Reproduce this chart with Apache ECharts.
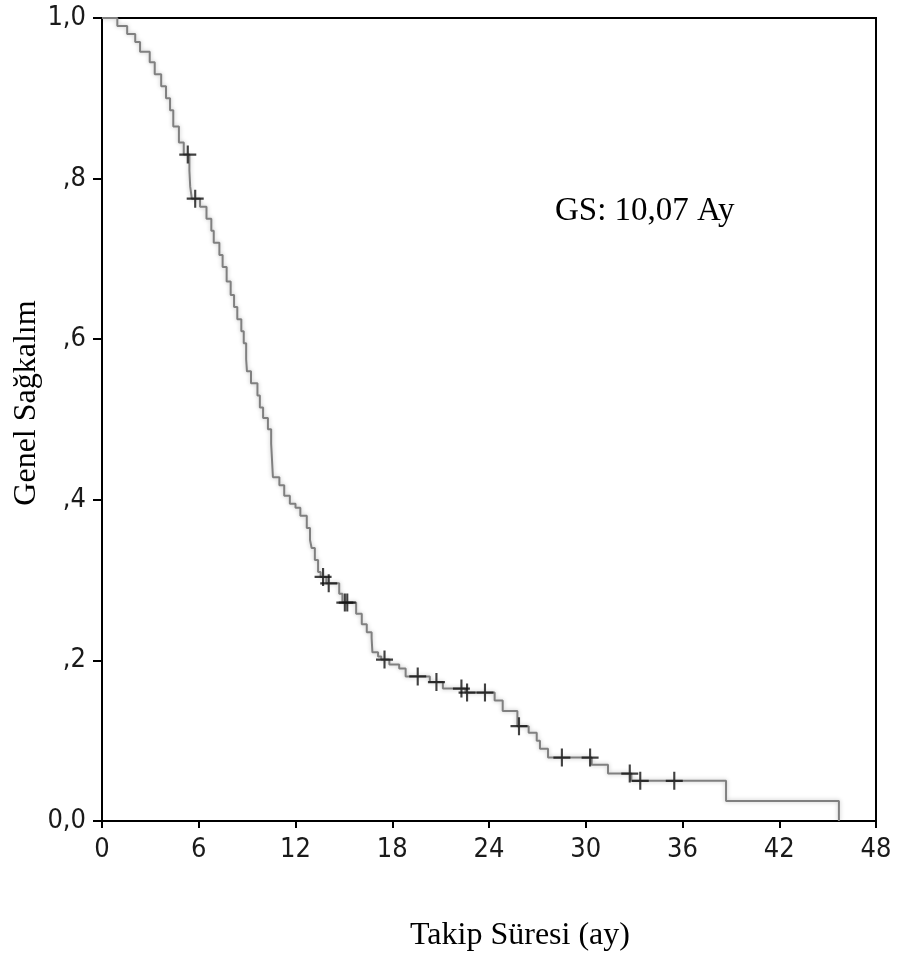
<!DOCTYPE html>
<html><head><meta charset="utf-8">
<script src="https://cdn.jsdelivr.net/npm/echarts@6/dist/echarts.min.js"></script>
<style>html,body{margin:0;padding:0;background:#fff}#c{width:898px;height:959px}</style>
</head><body><div id="c"></div>
<script>
// Kaplan-Meier steps: time (months) and survival after the event
const eventTimes = [0,0.95,1.56,2.06,2.36,2.96,3.27,3.67,3.97,4.22,4.42,4.77,5.07,5.42,5.47,5.57,6.08,6.48,6.78,6.93,7.28,7.48,7.73,7.98,8.19,8.39,8.64,8.79,8.94,8.99,9.24,9.64,9.79,9.99,10.29,10.49,10.6,11.0,11.3,11.65,12.0,12.3,12.7,12.9,13.0,13.2,13.4,13.56,13.91,14.71,14.91,15.76,16.11,16.42,16.72,16.77,17.12,17.32,17.82,18.43,18.83,20.33,21.14,22.54,24.35,24.85,25.76,26.46,26.96,27.16,27.66,30.37,31.38,32.83,38.7,45.7];
const survival   = [1.0,0.99,0.98,0.97,0.958,0.945,0.93,0.915,0.90,0.885,0.865,0.845,0.83,0.81,0.79,0.775,0.765,0.75,0.735,0.72,0.705,0.69,0.672,0.655,0.64,0.625,0.61,0.595,0.575,0.56,0.545,0.53,0.515,0.502,0.488,0.47,0.428,0.418,0.405,0.395,0.39,0.38,0.365,0.35,0.34,0.325,0.31,0.304,0.296,0.283,0.272,0.258,0.245,0.235,0.228,0.21,0.205,0.201,0.195,0.19,0.18,0.173,0.165,0.16,0.15,0.137,0.118,0.11,0.1,0.09,0.079,0.07,0.059,0.05,0.025,0.0];
// censored observations
const censorTimes = [5.32,5.78,13.71,14.06,15.06,15.21,17.52,19.58,20.74,22.29,22.64,23.75,25.86,28.52,30.27,32.73,33.38,35.49];
const censorSurv  = [0.83,0.775,0.304,0.296,0.272,0.272,0.201,0.18,0.173,0.165,0.16,0.16,0.118,0.079,0.079,0.059,0.05,0.05];
const xTicks = [0,6,12,18,24,30,36,42,48];
const yTickLabels = {0:'0,0',0.2:',2',0.4:',4',0.6:',6',0.8:',8',1:'1,0'};
const xTitle = 'Takip Süresi (ay)';
const yTitle = 'Genel Sağkalım';
const note = 'GS: 10,07 Ay';

const tickFont = '"DejaVu Sans Condensed","Liberation Sans Narrow","Liberation Sans",sans-serif';
const chart = echarts.init(document.getElementById('c'), null, {renderer:'canvas'});
const plus = 'path://M0,7 L16,7 L16,9 L0,9 Z M7,0 L9,0 L9,16 L7,16 Z';
chart.setOption({
  animation:false,
  backgroundColor:'#fff',
  grid:{left:102,top:18,right:22,bottom:138,containLabel:false,outerBoundsMode:'none',
    show:true,borderColor:'#000',borderWidth:2,backgroundColor:'transparent'},
  xAxis:{type:'value',min:0,max:48,interval:6,
    axisLine:{lineStyle:{color:'#000',width:2}},
    axisTick:{show:true,length:7,lineStyle:{color:'#000',width:2}},
    axisLabel:{margin:15,fontFamily:tickFont,fontSize:27,color:'#1a1a1a',
      formatter:v=>xTicks.includes(v)?String(v):''},
    splitLine:{show:false}},
  yAxis:{type:'value',min:0,max:1,interval:0.2,
    axisLine:{lineStyle:{color:'#000',width:2}},
    axisTick:{show:true,length:9,lineStyle:{color:'#000',width:2}},
    axisLabel:{margin:16,fontFamily:tickFont,fontSize:27,color:'#1a1a1a',
      formatter:v=>{const k=Math.round(v*10)/10;return yTickLabels[k]!==undefined?yTickLabels[k]:'';}},
    splitLine:{show:false}},
  graphic:[
    {type:'text',left:555,top:195,style:{text:note,font:'33px "Liberation Serif"',fill:'#000'}},
    {type:'text',x:520,y:936,style:{text:xTitle,font:'32px "Liberation Serif"',fill:'#000',textAlign:'center',textVerticalAlign:'middle'}},
    {type:'text',x:27,y:403,rotation:Math.PI/2,style:{text:yTitle,font:'32px "Liberation Serif"',fill:'#000',textAlign:'center',textVerticalAlign:'middle'}}
  ],
  series:[
    {type:'line',step:'end',symbol:'none',data:eventTimes.map((t,i)=>[t,survival[i]]),
      lineStyle:{color:'#808080',width:2,shadowColor:'rgba(0,0,0,0.25)',shadowBlur:4},z:2},
    {type:'scatter',symbol:plus,symbolSize:[17,18],data:censorTimes.map((t,i)=>[t,censorSurv[i]]),
      itemStyle:{color:'#111'},z:3}
  ]
});
</script></body></html>
